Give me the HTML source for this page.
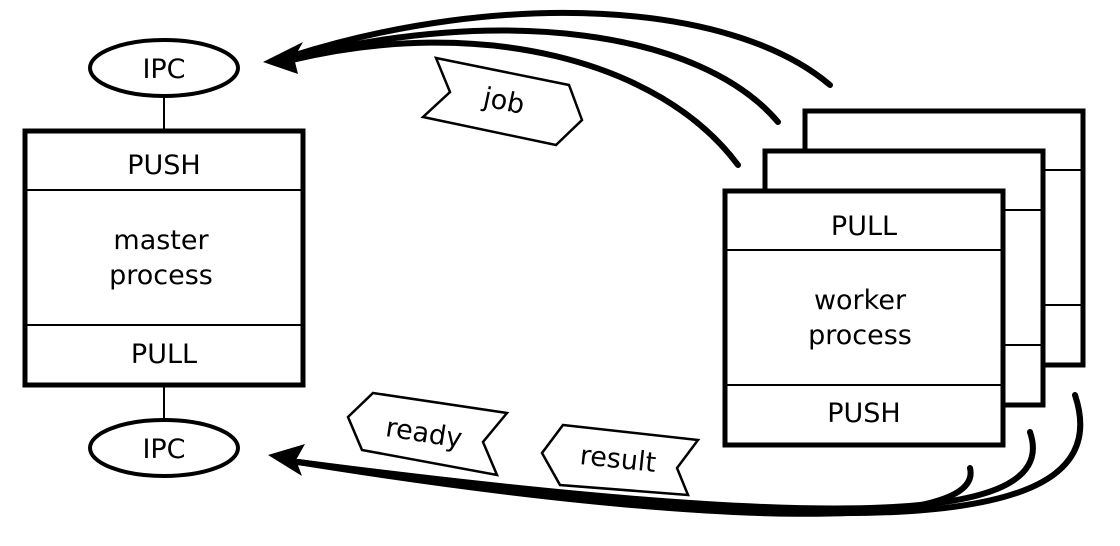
<!DOCTYPE html>
<html><head><style>body{margin:0;background:#fff}svg{display:block}text{font-family:"DejaVu Sans","Liberation Sans",sans-serif;font-size:27px;fill:#000}</style></head>
<body>
<svg width="1120" height="546" viewBox="0 0 1120 546">
<g fill="none" stroke="#000">
<line x1="164" y1="96" x2="164" y2="131" stroke-width="2"/>
<line x1="164" y1="385" x2="164" y2="420" stroke-width="2"/>
<ellipse cx="164" cy="68" rx="74" ry="28" stroke-width="4" fill="#fff"/>
<ellipse cx="164" cy="448" rx="74" ry="28" stroke-width="4" fill="#fff"/>
<rect x="25" y="131" width="278" height="254" stroke-width="5" fill="#fff"/>
<line x1="25" y1="190" x2="303" y2="190" stroke-width="2"/>
<line x1="25" y1="325" x2="303" y2="325" stroke-width="2"/>
<rect x="805" y="111" width="278" height="254" stroke-width="5" fill="#fff"/>
<line x1="805" y1="170" x2="1083" y2="170" stroke-width="2"/>
<line x1="805" y1="305" x2="1083" y2="305" stroke-width="2"/>
<rect x="765" y="151" width="278" height="254" stroke-width="5" fill="#fff"/>
<line x1="765" y1="210" x2="1043" y2="210" stroke-width="2"/>
<line x1="765" y1="345" x2="1043" y2="345" stroke-width="2"/>
<rect x="725" y="191" width="278" height="254" stroke-width="5" fill="#fff"/>
<line x1="725" y1="250" x2="1003" y2="250" stroke-width="2"/>
<line x1="725" y1="385" x2="1003" y2="385" stroke-width="2"/>
<path d="M830 85 C730 0 500 -10 292 56" stroke-width="6" stroke-linecap="round"/>
<path d="M778 122 C700 30 500 5 292 58" stroke-width="6" stroke-linecap="round"/>
<path d="M738 165 C660 60 480 15 292 60" stroke-width="6" stroke-linecap="round"/>
<path d="M970 468 C985 530 720 530 298 462" stroke-width="6" stroke-linecap="round"/>
<path d="M1030 432 C1060 520 860 535 298 462" stroke-width="6" stroke-linecap="round"/>
<path d="M1075 395 C1120 530 880 545 298 462" stroke-width="6" stroke-linecap="round"/>
<polygon points="436,58 569,85 582,120 556,145 423,117 450,92" stroke-width="2.5" fill="#fff"/>
<polygon points="373,393 507,413 483,442 497,475 362,450 348,417" stroke-width="2.5" fill="#fff"/>
<polygon points="563,425 698,440 677,468 688,495 560,485 542,453" stroke-width="2.5" fill="#fff"/>
</g>
<polygon points="263,62 303,42 294,58 298,74" fill="#000"/>
<polygon points="268,455 305,444 296,460 302,476" fill="#000"/>
<text x="164" y="78" text-anchor="middle">IPC</text>
<text x="164" y="458" text-anchor="middle">IPC</text>
<text x="164" y="174" text-anchor="middle">PUSH</text>
<text x="161" y="249" text-anchor="middle">master</text>
<text x="161" y="284" text-anchor="middle">process</text>
<text x="164" y="363" text-anchor="middle">PULL</text>
<text x="864" y="235" text-anchor="middle">PULL</text>
<text x="860" y="309" text-anchor="middle">worker</text>
<text x="860" y="344" text-anchor="middle">process</text>
<text x="864" y="422" text-anchor="middle">PUSH</text>
<text x="504" y="110" text-anchor="middle" transform="rotate(12 504 101)">job</text>
<text x="424" y="442" text-anchor="middle" transform="rotate(9 424 433)">ready</text>
<text x="618" y="468" text-anchor="middle" transform="rotate(6 618 459)">result</text>
</svg>
</body></html>
